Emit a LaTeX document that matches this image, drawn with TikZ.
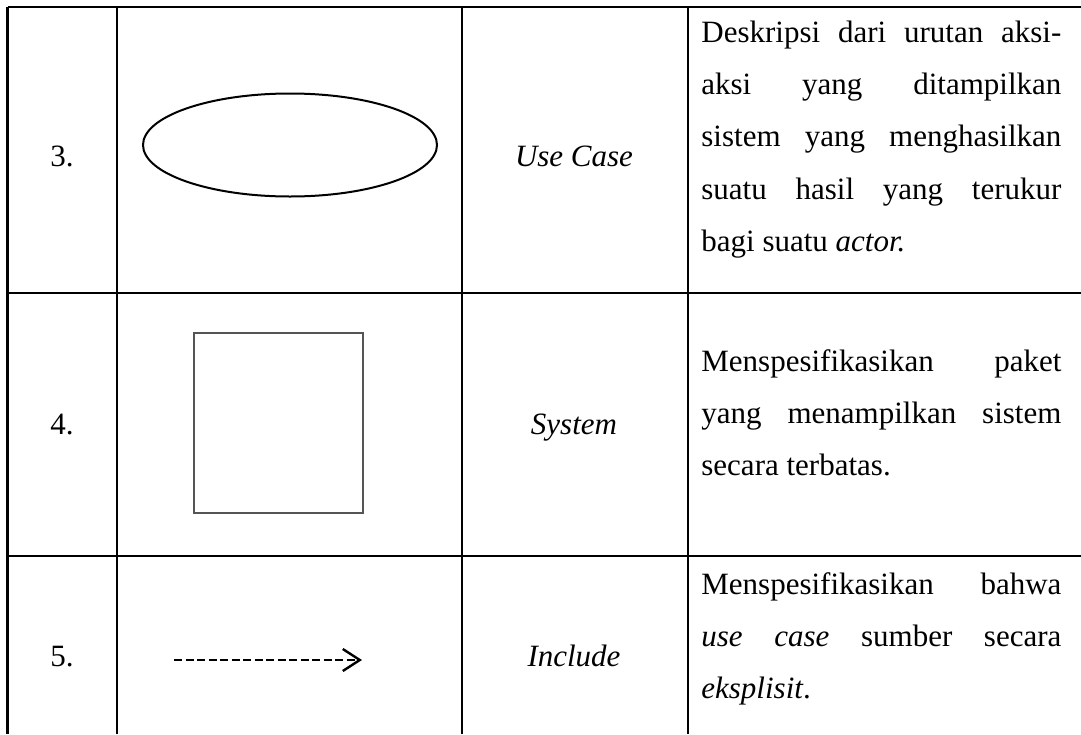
\documentclass[tikz,border=0pt]{standalone}
\usepackage{fontspec}
\setmainfont{Liberation Serif}
\usepackage{tikz}
\usetikzlibrary{arrows.meta, positioning, shapes.geometric}
\definecolor{boxgray}{RGB}{85,85,85}
\tikzset{
    tableline/.style={line width=1.3pt, black},
    celltext/.style={anchor=base, inner sep=0pt, font=\fontsize{15.5}{26.2}\selectfont},
    desctext/.style={anchor=base west, inner sep=0pt, text width=180pt, align=justify, font=\fontsize{15.5}{26.2}\selectfont}
}

\begin{document}
\begin{tikzpicture}[x=0.5pt, y=-0.5pt]
    \useasboundingbox (0,0) rectangle (1081,734);

    % Table grid
    \foreach \yy in {7,293,556}
        \draw[tableline] (7.5,\yy) -- (1081,\yy);
    \foreach \xx in {7.5,117,462,688}
        \draw[tableline] (\xx,7) -- (\xx,734);

    % Row 3: use case
    \node[celltext] (numA) at (62,166) {3.};
    \node[ellipse, draw, line width=1pt, minimum width=147pt, minimum height=51.5pt, inner sep=0pt] (usecase) at (290,145) {};
    \node[celltext] (nameA) at (574,166) {\textit{Use Case}};
    \node[desctext] (descA) at (701,42) {Deskripsi dari urutan aksi-\linebreak aksi yang ditampilkan\linebreak sistem yang menghasilkan\linebreak suatu hasil yang terukur\linebreak bagi suatu \textit{actor.}};

    % Row 4: system
    \node[celltext] (numB) at (62,434) {4.};
    \node[rectangle, draw=boxgray, line width=0.6pt, minimum width=84.5pt, minimum height=90pt, inner sep=0pt] (system) at (278.5,423) {};
    \node[celltext] (nameB) at (574,434) {\textit{System}};
    \node[desctext] (descB) at (701,371) {Menspesifikasikan paket\linebreak yang menampilkan sistem\linebreak secara terbatas.};

    % Row 5: include
    \node[celltext] (numC) at (62,666) {5.};
    \coordinate (incS) at (174,660);
    \coordinate (incE) at (362,660);
    \draw[line width=1.3pt, dash pattern=on 4pt off 1.75pt, -{Straight Barb[length=8.5pt, width=11pt, line width=1.2pt]}] (incS) -- (incE);
    \node[celltext] (nameC) at (574,666) {\textit{Include}};
    \node[desctext] (descC) at (701,594) {Menspesifikasikan bahwa\linebreak \textit{use case} sumber secara\linebreak \textit{eksplisit}.};
\end{tikzpicture}
\end{document}
